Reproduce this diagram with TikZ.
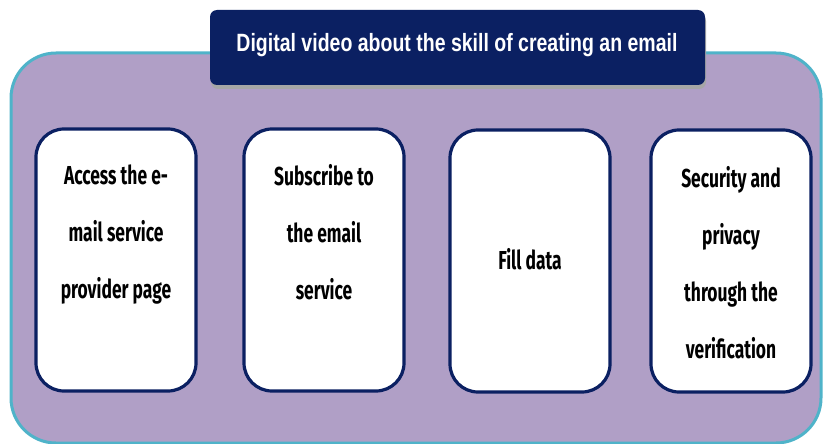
\documentclass[tikz,border=0pt]{standalone}
\usepackage{fontspec}
\setmainfont{Liberation Sans}
\newfontfamily\titlefont[FakeStretch=0.78]{Liberation Sans}
\newfontfamily\boxfont[FakeStretch=0.67]{Fira Sans}
\definecolor{panel}{HTML}{B09FC6}
\definecolor{panelline}{HTML}{4FB3C9}
\definecolor{navy}{HTML}{0B2062}
\tikzset{
  stepbox/.style={draw=navy, line width=3.2pt, fill=white, rounded corners=28pt,
    minimum width=160pt, minimum height=262pt, inner sep=0pt},
  steptext/.style={align=center, font=\boxfont\bfseries\fontsize{26}{57}\selectfont, text=black},
  titlebox/.style={fill=navy, rounded corners=7pt, minimum width=495pt, minimum height=75pt,
    text=white}
}
\begin{document}
\begin{tikzpicture}[x=1pt,y=-1pt]
\useasboundingbox (0,0) rectangle (823,444);
\clip (0,0) rectangle (823,444);
% panel
\draw[panelline, line width=3pt, fill=panel, rounded corners=45pt] (11,53) rectangle (821,443);
% title shadow
\fill[gray!70, rounded corners=7pt] (211,14) rectangle (706,89);
\node[titlebox] (title) at (457.5,47.5) {};
\node[text=white, font=\titlefont\bfseries\fontsize{25}{30}\selectfont] (titletext) at (457,45) {Digital video about the skill of creating an email};
% boxes
\node[stepbox] (b1) at (116,260) {};
\node[stepbox] (b2) at (324,260) {};
\node[stepbox] (b3) at (530,261) {};
\node[stepbox] (b4) at (731,261) {};
\node[steptext, anchor=north] (t1) at (116,161) {Access the e-\\mail service\\provider page};
\node[steptext, anchor=north] (t2) at (324,161) {Subscribe to\\the email\\service};
\node[steptext] (t3) at (530,259) {Fill data};
\node[steptext, anchor=north] (t4) at (731,163) {Security and\\privacy\\through the\\verification};
\end{tikzpicture}
\end{document}
